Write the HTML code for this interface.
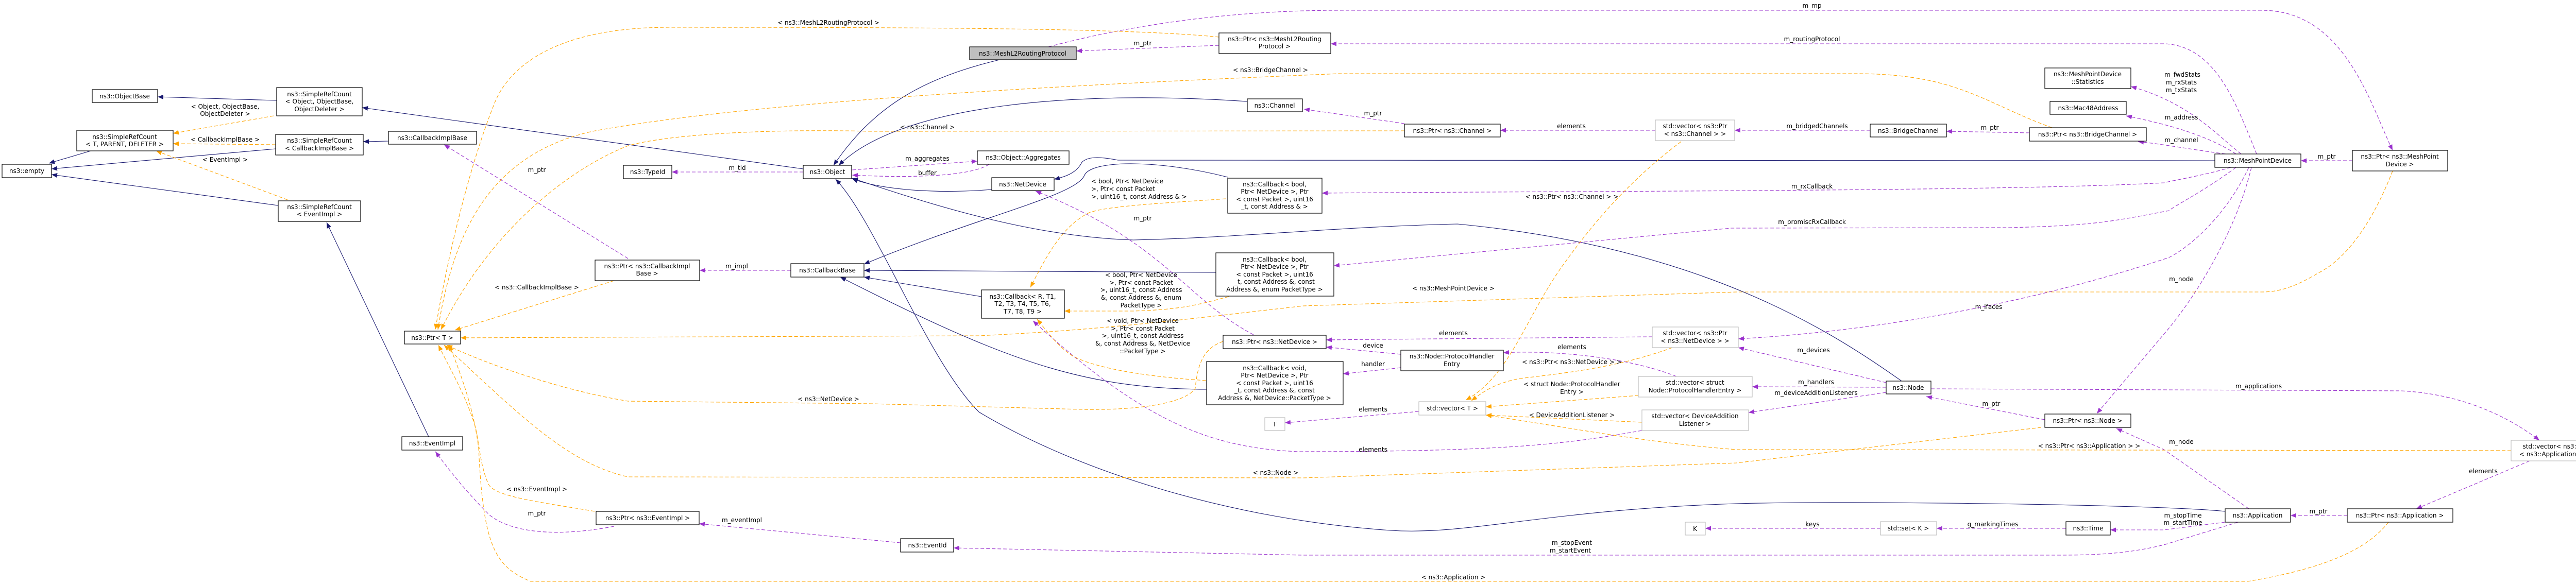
<!DOCTYPE html>
<html><head><meta charset="utf-8"><style>
html,body{margin:0;padding:0;background:#fff;}
svg{display:block;}
text{font-family:"DejaVu Sans","Liberation Sans",sans-serif;font-size:12px;fill:#000;}
.b{fill:#fff;stroke:#000;stroke-width:1.2;}
.g{fill:#fff;stroke:#bfbfbf;stroke-width:1.2;}
.n{fill:none;stroke:#191970;stroke-width:1.1;}
.p{fill:none;stroke:#9a32cd;stroke-width:1.1;stroke-dasharray:7,4;}
.o{fill:none;stroke:#ffa500;stroke-width:1.1;stroke-dasharray:7,4;}
.c{text-anchor:middle;}
</style></head><body>
<svg width="5052" height="1136" viewBox="0 0 5052 1136" xmlns="http://www.w3.org/2000/svg">
<defs>
<marker id="mn" markerWidth="12" markerHeight="9" refX="11" refY="4.5" orient="auto" markerUnits="userSpaceOnUse"><path d="M0,0 L11,4.5 L0,9z" fill="#191970"/></marker>
<marker id="mp" markerWidth="12" markerHeight="9" refX="11" refY="4.5" orient="auto" markerUnits="userSpaceOnUse"><path d="M0,0 L11,4.5 L0,9z" fill="#9a32cd"/></marker>
<marker id="mo" markerWidth="12" markerHeight="9" refX="11" refY="4.5" orient="auto" markerUnits="userSpaceOnUse"><path d="M0,0 L11,4.5 L0,9z" fill="#ffa500"/></marker>
</defs>

<g marker-end="url(#mn)">
<path class="n" d="M537,195 L306,188"/>
<path class="n" d="M1559,328 L703,209"/>
<path class="n" d="M176,293 L95,317"/>
<path class="n" d="M535,289 L100,328"/>
<path class="n" d="M540,399 L100,339"/>
<path class="n" d="M754,274 L705,275"/>
<path class="n" d="M832,848 L634,432"/>
<path class="n" d="M1940,116 C1800,150 1700,200 1618,321"/>
<path class="n" d="M2421,197 C2100,175 1750,200 1628,321"/>
<path class="n" d="M1925,368 C1800,378 1700,365 1654,347"/>
<path class="n" d="M4299,312 L2170,311 C2130,303 2110,305 2100,315 C2090,335 2070,343 2046,348"/>
<path class="n" d="M2383,344 C2250,310 2120,310 2105,340 C2090,380 1900,420 1677,513"/>
<path class="n" d="M2360,529 L1677,525"/>
<path class="n" d="M1905,576 L1677,538"/>
<path class="n" d="M2342,756 C2100,755 1950,700 1631,538"/>
<path class="n" d="M3691,740 C3550,640 3300,480 2829,435 C2600,440 2400,462 2200,466 C2000,460 1800,395 1654,346"/>
<path class="n" d="M4319,993 C4200,980 3600,972 3370,978 C3000,990 2850,1040 2700,1030 C2400,1010 2100,920 1900,800 C1800,700 1700,430 1622,348"/>
</g>

<g marker-end="url(#mp)">
<path class="p" d="M2366,88 L2089,99"/>
<path class="p" d="M4380,299 C4340,200 4300,88 4200,85 L2583,85"/>
<path class="p" d="M2035,91 C2150,60 2350,20 2600,20 L4390,20 C4550,20 4600,200 4644,292"/>
<path class="p" d="M4566,312 L4466,312"/>
<path class="p" d="M1559,334 L1304,334"/>
<path class="p" d="M1654,330 L1897,313"/>
<path class="p" d="M1920,319 C1880,345 1750,345 1654,340"/>
<path class="p" d="M1219,502 L862,281"/>
<path class="p" d="M1535,525 L1358,525"/>
<path class="p" d="M2726,240 L2531,212"/>
<path class="p" d="M3213,253 L2912,253"/>
<path class="p" d="M3630,253 L3367,253"/>
<path class="p" d="M3939,258 L3778,255"/>
<path class="p" d="M4350,299 C4300,260 4250,200 4136,168"/>
<path class="p" d="M4340,299 C4280,260 4200,240 4127,225"/>
<path class="p" d="M4320,299 C4250,290 4200,280 4150,275"/>
<path class="p" d="M4365,325 C4320,420 4250,480 4210,500 C4000,570 3700,640 3374,658"/>
<path class="p" d="M4330,325 C4280,340 4220,350 4200,355 C3900,372 3000,371 2566,375"/>
<path class="p" d="M4340,325 C4280,370 4220,400 4210,409 C4100,430 4065,438 3900,442 L3360,443 L2589,516"/>
<path class="p" d="M4370,325 C4340,450 4260,580 4200,649 L4070,803"/>
<path class="p" d="M2433,650 C2300,580 2260,470 2010,371"/>
<path class="p" d="M3207,654 L2574,660"/>
<path class="p" d="M2719,688 L2574,674"/>
<path class="p" d="M2719,714 L2607,726"/>
<path class="p" d="M3254,731 C3150,690 3000,680 2918,685"/>
<path class="p" d="M3661,743 L3374,675"/>
<path class="p" d="M3661,752 L3401,751"/>
<path class="p" d="M3661,762 L3394,801"/>
<path class="p" d="M3748,755 L4661,759 C4780,765 4870,810 4929,855"/>
<path class="p" d="M3969,815 L3739,770"/>
<path class="p" d="M4365,988 L4200,873 L4108,832"/>
<path class="p" d="M4910,895 L4690,988"/>
<path class="p" d="M4556,1001 L4446,1001"/>
<path class="p" d="M4319,1014 L4200,1029 L4096,1029"/>
<path class="p" d="M4010,1026 L3759,1026"/>
<path class="p" d="M3650,1026 L3310,1026"/>
<path class="p" d="M4344,1014 L4200,1058 C4150,1070 4100,1078 4000,1078 L2530,1078 L1851,1064"/>
<path class="p" d="M1748,1054 L1357,1017"/>
<path class="p" d="M1192,1022 C1100,1040 1000,1040 950,1000 C900,950 870,910 845,877"/>
<path class="p" d="M2754,799 L2494,821"/>
<path class="p" d="M3187,836 C3050,860 2950,877 2520,877 C2350,870 2220,819 2005,623"/>
</g>

<g marker-end="url(#mo)">
<path class="o" d="M531,225 L336,259"/>
<path class="o" d="M535,281 L336,279"/>
<path class="o" d="M558,388 L303,293"/>
<path class="o" d="M2366,72 C2200,55 1800,53 1300,53 C1050,53 980,150 960,200 C900,350 860,550 845,640"/>
<path class="o" d="M3983,248 C3850,200 3800,143 3600,143 L2600,143 C2200,160 1500,190 1150,255 C950,300 880,450 850,640"/>
<path class="o" d="M2726,254 L1690,255 C1500,250 1300,260 1219,283 C1100,330 950,450 856,640"/>
<path class="o" d="M2379,386 C2250,395 2150,400 2114,413 C2060,440 2030,500 2000,558"/>
<path class="o" d="M2385,576 C2330,590 2300,601 2200,604 L2066,604"/>
<path class="o" d="M2341,739 C2200,730 2114,710 2080,690 C2050,670 2030,640 2013,620"/>
<path class="o" d="M2374,663 C2340,675 2325,700 2320,754 C2300,785 2200,797 2100,795 L1690,784 L1219,779 C1100,760 950,710 867,670"/>
<path class="o" d="M4644,332 C4610,420 4560,500 4500,530 C4450,560 4420,567 4390,567 L3370,567 L2530,594 C2300,620 2150,640 1900,652 L894,656"/>
<path class="o" d="M3962,830 L3370,899 L2530,928 L1219,926 C1100,900 1003,800 862,670"/>
<path class="o" d="M4874,875 L3370,873 C3200,860 3062,833 2884,806"/>
<path class="o" d="M4636,1014 C4600,1060 4530,1101 4363,1129 L1030,1129 C960,1100 938,1060 929,870 C920,800 900,740 872,670"/>
<path class="o" d="M1154,993 C1050,975 960,965 948,940 C930,900 930,850 920,820 C900,760 870,710 851,670"/>
<path class="o" d="M1192,545 L883,641"/>
<path class="o" d="M3263,275 C3150,360 3080,450 3030,520 C2960,620 2930,730 2845,777"/>
<path class="o" d="M3246,675 C3150,710 3062,722 2950,735 C2900,745 2880,760 2856,778"/>
<path class="o" d="M3180,768 L2884,790"/>
<path class="o" d="M3187,820 L2884,806"/>
</g>

<rect class="b" x="179" y="174" width="127" height="25"/><text class="c" x="242" y="191">ns3::ObjectBase</text>
<rect class="b" x="537" y="170" width="166" height="55"/><text class="c" x="620" y="187">ns3::SimpleRefCount</text><text class="c" x="620" y="201">&lt; Object, ObjectBase,</text><text class="c" x="620" y="216">ObjectDeleter &gt;</text>
<rect class="b" x="149" y="253" width="187" height="40"/><text class="c" x="242" y="270">ns3::SimpleRefCount</text><text class="c" x="242" y="284">&lt; T, PARENT, DELETER &gt;</text>
<rect class="b" x="535" y="261" width="170" height="40"/><text class="c" x="620" y="277">ns3::SimpleRefCount</text><text class="c" x="620" y="292">&lt; CallbackImplBase &gt;</text>
<rect class="b" x="4" y="319" width="96" height="26"/><text class="c" x="52" y="336">ns3::empty</text>
<rect class="b" x="540" y="390" width="160" height="40"/><text class="c" x="620" y="406">ns3::SimpleRefCount</text><text class="c" x="620" y="420">&lt; EventImpl &gt;</text>
<rect class="b" x="780" y="848" width="118" height="26"/><text class="c" x="839" y="865">ns3::EventImpl</text>
<rect class="b" x="785" y="643" width="109" height="25"/><text class="c" x="839" y="660">ns3::Ptr&lt; T &gt;</text>
<rect class="b" x="754" y="255" width="171" height="25"/><text class="c" x="839" y="272">ns3::CallbackImplBase</text>
<rect class="b" x="1210" y="321" width="94" height="26"/><text class="c" x="1257" y="338">ns3::TypeId</text>
<rect class="b" x="1559" y="321" width="94" height="26"/><text class="c" x="1606" y="338">ns3::Object</text>
<rect class="b" x="1155" y="505" width="203" height="40"/><text class="c" x="1256" y="521">ns3::Ptr&lt; ns3::CallbackImpl</text><text class="c" x="1256" y="535">Base &gt;</text>
<rect class="b" x="1535" y="512" width="142" height="26"/><text class="c" x="1606" y="529">ns3::CallbackBase</text>
<rect class="b" x="1157" y="993" width="200" height="26"/><text class="c" x="1257" y="1010">ns3::Ptr&lt; ns3::EventImpl &gt;</text>
<rect x="1882" y="91" width="207" height="25" fill="#bfbfbf" stroke="#000" stroke-width="1.2"/><text class="c" x="1985" y="108">ns3::MeshL2RoutingProtocol</text>
<rect class="b" x="2366" y="64" width="217" height="40"/><text class="c" x="2474" y="80">ns3::Ptr&lt; ns3::MeshL2Routing</text><text class="c" x="2474" y="94">Protocol &gt;</text>
<rect class="b" x="2421" y="192" width="107" height="25"/><text class="c" x="2474" y="209">ns3::Channel</text>
<rect class="b" x="1897" y="293" width="178" height="26"/><text class="c" x="1986" y="310">ns3::Object::Aggregates</text>
<rect class="b" x="1925" y="345" width="121" height="25"/><text class="c" x="1985" y="362">ns3::NetDevice</text>
<rect class="b" x="2383" y="346" width="183" height="68"/><text class="c" x="2474" y="362">ns3::Callback&lt; bool,</text><text class="c" x="2474" y="376">Ptr&lt; NetDevice &gt;, Ptr</text><text class="c" x="2474" y="391">&lt; const Packet &gt;, uint16</text><text class="c" x="2474" y="405">_t, const Address &amp; &gt;</text>
<rect class="b" x="2360" y="491" width="229" height="84"/><text class="c" x="2474" y="508">ns3::Callback&lt; bool,</text><text class="c" x="2474" y="522">Ptr&lt; NetDevice &gt;, Ptr</text><text class="c" x="2474" y="537">&lt; const Packet &gt;, uint16</text><text class="c" x="2474" y="551">_t, const Address &amp;, const</text><text class="c" x="2474" y="566">Address &amp;, enum PacketType &gt;</text>
<rect class="b" x="1905" y="563" width="161" height="55"/><text class="c" x="1985" y="580">ns3::Callback&lt; R, T1,</text><text class="c" x="1985" y="594">T2, T3, T4, T5, T6,</text><text class="c" x="1985" y="609">T7, T8, T9 &gt;</text>
<rect class="b" x="2374" y="651" width="200" height="26"/><text class="c" x="2474" y="668">ns3::Ptr&lt; ns3::NetDevice &gt;</text>
<rect class="b" x="2342" y="702" width="265" height="84"/><text class="c" x="2474" y="719">ns3::Callback&lt; void,</text><text class="c" x="2474" y="733">Ptr&lt; NetDevice &gt;, Ptr</text><text class="c" x="2474" y="748">&lt; const Packet &gt;, uint16</text><text class="c" x="2474" y="762">_t, const Address &amp;, const</text><text class="c" x="2474" y="777">Address &amp;, NetDevice::PacketType &gt;</text>
<rect class="g" x="2455" y="811" width="39" height="25"/><text class="c" x="2474" y="828">T</text>
<rect class="b" x="1748" y="1046" width="103" height="26"/><text class="c" x="1800" y="1063">ns3::EventId</text>
<rect class="b" x="2726" y="241" width="186" height="25"/><text class="c" x="2819" y="258">ns3::Ptr&lt; ns3::Channel &gt;</text>
<rect class="g" x="3213" y="233" width="154" height="40"/><text class="c" x="3290" y="249">std::vector&lt; ns3::Ptr</text><text class="c" x="3290" y="264">&lt; ns3::Channel &gt; &gt;</text>
<rect class="g" x="3207" y="635" width="167" height="40"/><text class="c" x="3290" y="651">std::vector&lt; ns3::Ptr</text><text class="c" x="3290" y="666">&lt; ns3::NetDevice &gt; &gt;</text>
<rect class="b" x="2719" y="680" width="199" height="40"/><text class="c" x="2818" y="696">ns3::Node::ProtocolHandler</text><text class="c" x="2818" y="711">Entry</text>
<rect class="g" x="3180" y="731" width="221" height="40"/><text class="c" x="3290" y="747">std::vector&lt; struct</text><text class="c" x="3290" y="762">Node::ProtocolHandlerEntry &gt;</text>
<rect class="g" x="2754" y="780" width="130" height="26"/><text class="c" x="2819" y="797">std::vector&lt; T &gt;</text>
<rect class="g" x="3187" y="796" width="207" height="40"/><text class="c" x="3290" y="812">std::vector&lt; DeviceAddition</text><text class="c" x="3290" y="827">Listener &gt;</text>
<rect class="g" x="3271" y="1014" width="39" height="25"/><text class="c" x="3290" y="1031">K</text>
<rect class="b" x="3630" y="241" width="148" height="25"/><text class="c" x="3704" y="258">ns3::BridgeChannel</text>
<rect class="b" x="3939" y="248" width="227" height="26"/><text class="c" x="4052" y="265">ns3::Ptr&lt; ns3::BridgeChannel &gt;</text>
<rect class="b" x="3969" y="132" width="167" height="40"/><text class="c" x="4052" y="148">ns3::MeshPointDevice</text><text class="c" x="4052" y="163">::Statistics</text>
<rect class="b" x="3979" y="197" width="148" height="25"/><text class="c" x="4053" y="214">ns3::Mac48Address</text>
<rect class="b" x="3661" y="740" width="87" height="25"/><text class="c" x="3704" y="757">ns3::Node</text>
<rect class="b" x="3969" y="804" width="167" height="26"/><text class="c" x="4052" y="821">ns3::Ptr&lt; ns3::Node &gt;</text>
<rect class="g" x="3650" y="1013" width="109" height="26"/><text class="c" x="3704" y="1030">std::set&lt; K &gt;</text>
<rect class="b" x="4010" y="1013" width="86" height="26"/><text class="c" x="4053" y="1030">ns3::Time</text>
<rect class="b" x="4299" y="299" width="167" height="26"/><text class="c" x="4382" y="316">ns3::MeshPointDevice</text>
<rect class="b" x="4566" y="292" width="185" height="40"/><text class="c" x="4658" y="308">ns3::Ptr&lt; ns3::MeshPoint</text><text class="c" x="4658" y="323">Device &gt;</text>
<rect class="g" x="4874" y="855" width="170" height="40"/><text class="c" x="4959" y="871">std::vector&lt; ns3::Ptr</text><text class="c" x="4959" y="886">&lt; ns3::Application &gt; &gt;</text>
<rect class="b" x="4319" y="988" width="127" height="26"/><text class="c" x="4382" y="1005">ns3::Application</text>
<rect class="b" x="4556" y="988" width="205" height="26"/><text class="c" x="4658" y="1005">ns3::Ptr&lt; ns3::Application &gt;</text>

<g class="c">
<text x="437" y="211">&lt; Object, ObjectBase,</text><text x="437" y="225">ObjectDeleter &gt;</text>
<text x="437" y="275">&lt; CallbackImplBase &gt;</text>
<text x="437" y="314">&lt; EventImpl &gt;</text>
<text x="1608" y="48">&lt; ns3::MeshL2RoutingProtocol &gt;</text>
<text x="2218" y="88">m_ptr</text>
<text x="3517" y="80">m_routingProtocol</text>
<text x="3517" y="15">m_mp</text>
<text x="2466" y="140">&lt; ns3::BridgeChannel &gt;</text>
<text x="1800" y="251">&lt; ns3::Channel &gt;</text>
<text x="2665" y="224">m_ptr</text>
<text x="3050" y="249">elements</text>
<text x="3527" y="249">m_bridgedChannels</text>
<text x="3862" y="252">m_ptr</text>
<text x="4236" y="149">m_fwdStats</text><text x="4234" y="164">m_rxStats</text><text x="4234" y="179">m_txStats</text>
<text x="4234" y="232">m_address</text>
<text x="4234" y="276">m_channel</text>
<text x="4516" y="308">m_ptr</text>
<text x="1431" y="330">m_tid</text>
<text x="1800" y="312">m_aggregates</text>
<text x="1800" y="340">buffer</text>
<text x="1042" y="334">m_ptr</text>
<text x="1430" y="521">m_impl</text>
<text x="1042" y="562">&lt; ns3::CallbackImplBase &gt;</text>
<text x="2118" y="356" style="text-anchor:start">&lt; bool, Ptr&lt; NetDevice</text>
<text x="2118" y="371" style="text-anchor:start">&gt;, Ptr&lt; const Packet</text>
<text x="2118" y="386" style="text-anchor:start">&gt;, uint16_t, const Address &amp; &gt;</text>
<text x="2218" y="428">m_ptr</text>
<text x="3517" y="366">m_rxCallback</text>
<text x="3517" y="435">m_promiscRxCallback</text>
<text x="2215" y="538">&lt; bool, Ptr&lt; NetDevice</text>
<text x="2215" y="553">&gt;, Ptr&lt; const Packet</text>
<text x="2215" y="567">&gt;, uint16_t, const Address</text>
<text x="2215" y="582">&amp;, const Address &amp;, enum</text>
<text x="2215" y="597">PacketType &gt;</text>
<text x="2821" y="564">&lt; ns3::MeshPointDevice &gt;</text>
<text x="2218" y="627">&lt; void, Ptr&lt; NetDevice</text>
<text x="2218" y="642">&gt;, Ptr&lt; const Packet</text>
<text x="2218" y="656">&gt;, uint16_t, const Address</text>
<text x="2218" y="671">&amp;, const Address &amp;, NetDevice</text>
<text x="2218" y="686">::PacketType &gt;</text>
<text x="3051" y="386">&lt; ns3::Ptr&lt; ns3::Channel &gt; &gt;</text>
<text x="3860" y="600">m_ifaces</text>
<text x="4234" y="546">m_node</text>
<text x="2821" y="651">elements</text>
<text x="2665" y="675">device</text>
<text x="2665" y="711">handler</text>
<text x="3051" y="678">elements</text>
<text x="3051" y="707">&lt; ns3::Ptr&lt; ns3::NetDevice &gt; &gt;</text>
<text x="3051" y="750">&lt; struct Node::ProtocolHandler</text><text x="3051" y="765">Entry &gt;</text>
<text x="3051" y="810">&lt; DeviceAdditionListener &gt;</text>
<text x="3520" y="684">m_devices</text>
<text x="3525" y="746">m_handlers</text>
<text x="3525" y="767">m_deviceAdditionListeners</text>
<text x="1608" y="779">&lt; ns3::NetDevice &gt;</text>
<text x="2665" y="799">elements</text>
<text x="2665" y="877">elements</text>
<text x="4384" y="754">m_applications</text>
<text x="3865" y="788">m_ptr</text>
<text x="4234" y="862">m_node</text>
<text x="4055" y="870">&lt; ns3::Ptr&lt; ns3::Application &gt; &gt;</text>
<text x="2476" y="922">&lt; ns3::Node &gt;</text>
<text x="4820" y="919">elements</text>
<text x="4500" y="997">m_ptr</text>
<text x="4237" y="1005">m_stopTime</text><text x="4237" y="1019">m_startTime</text>
<text x="3868" y="1022">g_markingTimes</text>
<text x="3518" y="1022">keys</text>
<text x="3051" y="1058">m_stopEvent</text><text x="3048" y="1073">m_startEvent</text>
<text x="1440" y="1014">m_eventImpl</text>
<text x="1042" y="1001">m_ptr</text>
<text x="1042" y="954">&lt; ns3::EventImpl &gt;</text>
<text x="2821" y="1125">&lt; ns3::Application &gt;</text>
</g>
</svg>
</body></html>
